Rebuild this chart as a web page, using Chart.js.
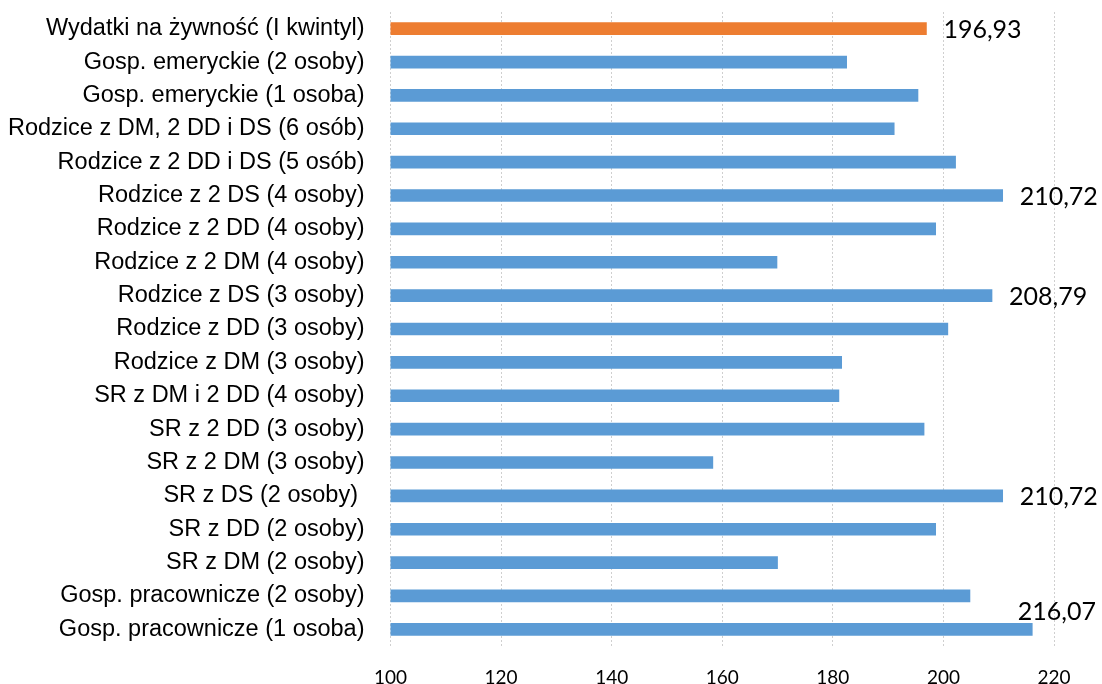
<!DOCTYPE html>
<html>
<head>
<meta charset="utf-8">
<script src="https://cdn.jsdelivr.net/npm/chart.js@4"></script>
<style>
  body { margin: 0; background: #fff; }
  #wrap { width: 1102px; height: 684px; }
</style>
</head>
<body>
<div id="wrap"><canvas id="chart"></canvas></div>
<script>
const categories = [
  'Wydatki na żywność (I kwintyl)',
  'Gosp. emeryckie (2 osoby)',
  'Gosp. emeryckie (1 osoba)',
  'Rodzice z DM, 2 DD i DS (6 osób)',
  'Rodzice z 2 DD i DS (5 osób)',
  'Rodzice z 2 DS (4 osoby)',
  'Rodzice z 2 DD (4 osoby)',
  'Rodzice z 2 DM (4 osoby)',
  'Rodzice z DS (3 osoby)',
  'Rodzice z DD (3 osoby)',
  'Rodzice z DM (3 osoby)',
  'SR z DM i 2 DD (4 osoby)',
  'SR z 2 DD (3 osoby)',
  'SR z 2 DM (3 osoby)',
  'SR z DS (2 osoby) ',
  'SR z DD (2 osoby)',
  'SR z DM (2 osoby)',
  'Gosp. pracownicze (2 osoby)',
  'Gosp. pracownicze (1 osoba)',
]
const values = [
  196.93, 182.5, 195.4, 191.1, 202.2, 210.72, 198.6, 169.9, 208.79, 200.8,
  181.6, 181.1, 196.5, 158.3, 210.72, 198.6, 170.0, 204.8, 216.07,
]
// indexes of bars that carry a value label
const labelledBars = [0, 5, 8, 14, 18]
const highlightIndex = 0
const xTicks = [100, 120, 140, 160, 180, 200, 220]

const blue = '#5B9BD5'
const orange = '#ED7D31'

// draws the value labels next to the bar ends (above the bar if no room)
const valueLabels = {
  id: 'valueLabels',
  afterDatasetsDraw(chart) {
    const ctx = chart.ctx
    const meta = chart.getDatasetMeta(0)
    ctx.save()
    ctx.font = '25px Lato'
    ctx.fillStyle = '#000'
    ctx.textBaseline = 'middle'
    ctx.textAlign = 'left'
    labelledBars.forEach((i) => {
      const bar = meta.data[i]
      const text = values[i].toFixed(2).replace('.', ',')
      const w = ctx.measureText(text).width
      let x = bar.x + 17
      let y = bar.y + 1
      if (x + w > chart.width - 4) {
        x = chart.width - 6 - w
        y = bar.y - 17
      }
      ctx.fillText(text, x, y)
    })
    ctx.restore()
  },
}

const ctx = document.getElementById('chart')
new Chart(ctx, {
  type: 'bar',
  data: {
    labels: categories,
    datasets: [
      {
        data: values,
        backgroundColor: values.map((v, i) => (i === highlightIndex ? orange : blue)),
        barThickness: 12,
        borderWidth: 0,
      },
    ],
  },
  options: {
    indexAxis: 'y',
    responsive: true,
    maintainAspectRatio: false,
    animation: false,
    layout: { padding: { top: 12, right: 48, bottom: 0, left: 0 } },
    plugins: {
      legend: { display: false },
      tooltip: { enabled: false },
    },
    scales: {
      x: {
        min: 100,
        max: 220,
        afterBuildTicks: (scale) => {
          scale.ticks = xTicks.map((v) => ({ value: v }))
        },
        afterFit: (scale) => {
          scale.height = 38
        },
        grid: { color: '#cfcfcf', lineWidth: 1, drawTicks: false },
        border: { display: false, dash: [2, 2] },
        ticks: {
          padding: 20,
          color: '#000',
          font: { family: 'Lato', size: 19 },
          maxRotation: 0,
        },
      },
      y: {
        afterFit: (scale) => {
          scale.width = 390.5
          scale.paddingTop = 0
          scale.paddingBottom = 0
        },
        grid: { display: false, drawTicks: false },
        border: { display: false },
        ticks: {
          padding: 26,
          color: '#000',
          autoSkip: false,
          font: { family: 'Liberation Sans', size: 23.5 },
        },
      },
    },
  },
  plugins: [valueLabels],
})
</script>
</body>
</html>
